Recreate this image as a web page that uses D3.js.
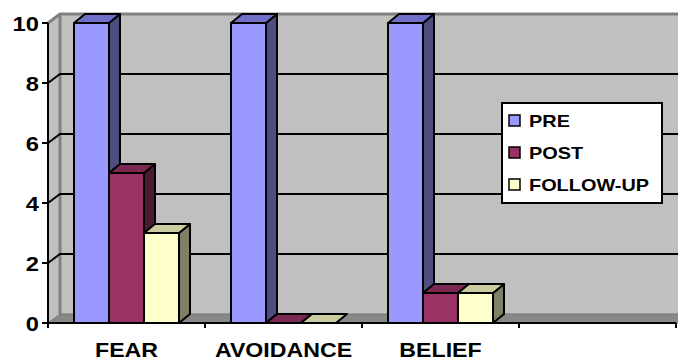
<!DOCTYPE html>
<meta charset="utf-8">
<style>
  body { margin: 0; background: #fff; }
  text { font-family: "Liberation Sans", Arial, sans-serif; font-weight: bold; fill: #000; }
</style>
<svg width="678" height="363"></svg>
<script src="https://d3js.org/d3.v7.min.js"></script>
<script>

var categories = ["FEAR", "AVOIDANCE", "BELIEF", ""];
var seriesNames = ["PRE", "POST", "FOLLOW-UP"];
var pre = [10, 10, 10];
var post = [5, 0, 1];
var followUp = [3, 0, 1];
var yTicks = [0, 2, 4, 6, 8, 10];

var series = [pre, post, followUp];
// front, top, side shades for the 3d look
var colors = [
  ["#9999FF", "#7070C8", "#4D4D80"],
  ["#993366", "#7A2952", "#4D1A33"],
  ["#FFFFCC", "#CCCCA3", "#808066"]
];

var svg = d3.select("svg"),
    plotLeft = 48, plotRight = 676, plotBottom = 323, plotTop = 23,
    wdx = 12, wdy = -9,   // wall depth
    bdx = 11, bdy = -9,   // bar depth
    sx = 1.13;            // the source fonts are a bit wide

var x = d3.scaleBand().domain(categories).range([plotLeft, plotRight]);
var xi = d3.scaleBand().domain(seriesNames).range([0, x.bandwidth()]).paddingOuter(0.743);
var y = d3.scaleLinear().domain([0, 10]).range([plotBottom, plotTop]);

function pts(a) { return a.map(function(p) { return p.join(","); }).join(" "); }

// back wall
svg.append("rect")
    .attr("x", plotLeft + wdx).attr("y", y(10) + wdy)
    .attr("width", 700).attr("height", y(0) - y(10))
    .attr("fill", "#C0C0C0");
// side wall
svg.append("polygon")
    .attr("points", pts([[plotLeft, y(10)], [plotLeft + wdx, y(10) + wdy], [plotLeft + wdx, y(0) + wdy], [plotLeft, y(0)]]))
    .attr("fill", "#C0C0C0");
svg.append("path")
    .attr("d", "M" + plotLeft + "," + y(10) + "L" + (plotLeft + wdx) + "," + (y(10) + wdy) + "H680M" + (plotLeft + wdx) + "," + (y(10) + wdy) + "V" + (y(0) + wdy))
    .attr("fill", "none").attr("stroke", "#808080").attr("stroke-width", 3);

// gridlines
svg.append("g").selectAll("path")
  .data(yTicks.filter(function(d) { return d > 0 && d < 10; }))
  .enter().append("path")
    .attr("d", function(d) { return "M" + plotLeft + "," + y(d) + "L" + (plotLeft + wdx) + "," + (y(d) + wdy) + "H680"; })
    .attr("fill", "none").attr("stroke", "#000").attr("stroke-width", 2);

// floor
svg.append("polygon")
    .attr("points", pts([[plotLeft, plotBottom], [plotRight + 4, plotBottom], [plotRight + 4 + wdx, plotBottom + wdy], [plotLeft + wdx, plotBottom + wdy]]))
    .attr("fill", "#888").attr("stroke", "#777").attr("stroke-width", 1);

// y axis
svg.append("line").attr("x1", plotLeft).attr("x2", plotLeft).attr("y1", y(10)).attr("y2", y(0))
    .attr("stroke", "#000").attr("stroke-width", 2);
var yt = svg.append("g").selectAll("g").data(yTicks).enter().append("g");
yt.append("line").attr("x1", plotLeft - 6).attr("x2", plotLeft)
    .attr("y1", function(d) { return y(d); }).attr("y2", function(d) { return y(d); })
    .attr("stroke", "#000").attr("stroke-width", 2);
yt.append("text")
    .attr("transform", function(d) { return "translate(39," + (y(d) + 7.5) + ")scale(" + sx + ",1)"; })
    .attr("text-anchor", "end").attr("font-size", 21)
    .text(function(d) { return d; });

// x axis
svg.append("line").attr("x1", plotLeft).attr("x2", plotRight).attr("y1", plotBottom).attr("y2", plotBottom)
    .attr("stroke", "#000").attr("stroke-width", 2);
svg.append("g").selectAll("line")
  .data(categories.map(function(c) { return x(c); }).concat([plotRight]))
  .enter().append("line")
    .attr("x1", function(d) { return d; }).attr("x2", function(d) { return d; })
    .attr("y1", plotBottom).attr("y2", plotBottom + 5)
    .attr("stroke", "#000").attr("stroke-width", 2);
svg.append("g").selectAll("text")
  .data(categories)
  .enter().append("text")
    .attr("transform", function(d) { return "translate(" + (x(d) + x.bandwidth() / 2) + ",357)scale(" + sx + ",1)"; })
    .attr("text-anchor", "middle").attr("font-size", 20.5)
    .text(function(d) { return d; });

// bars, left to right so later faces sit on top
categories.slice(0, 3).forEach(function(c, i) {
  seriesNames.forEach(function(s, j) {
    var v = series[j][i],
        x0 = x(c) + xi(s), w = xi.bandwidth(), t = y(v),
        g = svg.append("g").attr("stroke", "#000").attr("stroke-width", 2).attr("stroke-linejoin", "round");
    if (v > 0) {
      g.append("rect").attr("x", x0).attr("y", t).attr("width", w).attr("height", plotBottom - t)
          .attr("fill", colors[j][0]);
      g.append("polygon")
          .attr("points", pts([[x0 + w, t], [x0 + w + bdx, t + bdy], [x0 + w + bdx, plotBottom + bdy], [x0 + w, plotBottom]]))
          .attr("fill", colors[j][2]);
    }
    g.append("polygon")
        .attr("points", pts([[x0, t], [x0 + bdx, t + bdy], [x0 + w + bdx, t + bdy], [x0 + w, t]]))
        .attr("fill", colors[j][1]);
  });
});

// legend
var legend = svg.append("g").attr("transform", "translate(502,103)");
legend.append("rect").attr("width", 160).attr("height", 100)
    .attr("fill", "#fff").attr("stroke", "#000").attr("stroke-width", 2);
var item = legend.selectAll("g.item").data(seriesNames).enter().append("g")
    .attr("transform", function(d, i) { return "translate(0," + (18 + i * 32) + ")"; });
item.append("rect").attr("x", 7).attr("y", -6).attr("width", 11).attr("height", 11)
    .attr("fill", function(d, i) { return colors[i][0]; })
    .attr("stroke", "#000").attr("stroke-width", 1.5);
item.append("text")
    .attr("transform", "translate(27,6)scale(1.17,1)")
    .attr("font-size", 17)
    .text(function(d) { return d; });

</script>
